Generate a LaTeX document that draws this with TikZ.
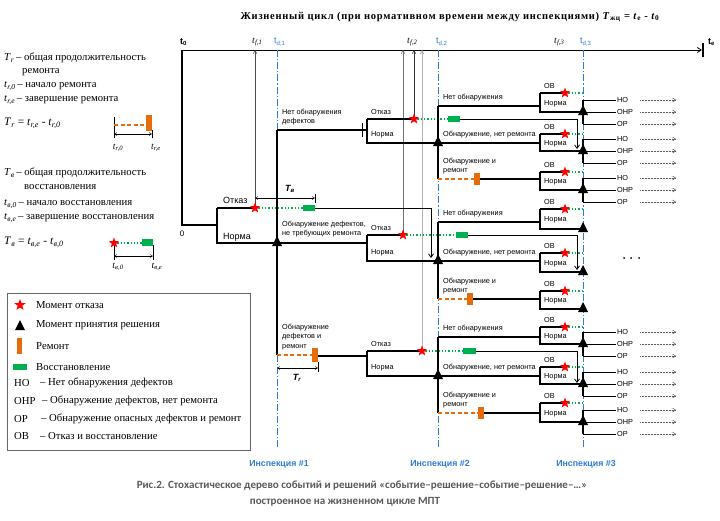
\documentclass[tikz,border=0pt]{standalone}
\usepackage{fontspec}
\setmainfont{Liberation Serif}
\setsansfont{Liberation Sans}
\newfontfamily\capfont{Carlito}
\usetikzlibrary{shapes.geometric,arrows.meta}
\definecolor{fail}{HTML}{FF0000}
\definecolor{rep}{HTML}{E46C0A}
\definecolor{rec}{HTML}{00B050}
\definecolor{insp}{HTML}{2F7BD8}
\definecolor{capgray}{HTML}{595959}
\newcommand{\tvar}[2]{\textit{#1}\textsubscript{\textit{#2}}}
\newcommand{\decmark}[2]{\fill (#1-5,#2+3) -- (#1+5,#2+3) -- (#1,#2-7) -- cycle;}
\newcommand{\ovgrp}[2]{%
  \draw[tree] (540,#1) -- (565,#1);
  \draw[recline] (565,#1) -- (583,#1);
  \draw[tree] (540,#1) -- (540,#2) -- (583,#2);
  \node[failmark] at (565,#1) {};
  \decmark{583}{#2}
  \node[lbl] at (544,#1-7) {ОВ};
  \node[lbl] at (544,{(#1+#2)/2+1}) {Норма};}
\newcommand{\outs}[1]{%
  \draw[tree] (583,#1-12) -- (583,#1+12);
  \foreach \d/\t in {-12/НО,0/ОНР,12/ОР}{%
    \draw[thin tree] (583,#1+\d) -- (616,#1+\d);
    \node[lbl] at (617,#1+\d) {\t};
    \draw[dotarr] (640,#1+\d) -- (676,#1+\d);}}
\newcommand{\subtwo}[6]{%
  \draw[tree] (367,#1) -- (367,#2) -- (540,#2);
  \draw[tree] (367,#1) -- (#3,#1);
  \draw[recline] (#3,#1) -- (#4,#1);
  \fill[rec] (#4,#1-3) rectangle (#5,#1+3);
  \draw[thin tree,-{Straight Barb[length=3.5pt,width=5pt]}] (#5,#1) -- (577,#1) -- (577,#6);
  \node[failmark] at (#3,#1) {};
  \decmark{438}{#2}
  \node[lbl] at (371,#1-7) {Отказ};
  \node[lbl] at (371,#2-8) {Норма};}
\newcommand{\subthree}[4]{%
  \draw[tree] (438,#1) -- (438,#3);
  \draw[tree] (438,#1) -- (540,#1);
  \draw[repline] (438,#3) -- (#4,#3);
  \fill[rep] (#4,#3-6) rectangle (#4+6,#3+6);
  \draw[tree] (#4+6,#3) -- (540,#3);
  \node[lbl] at (443,#1-8) {Нет обнаружения};
  \node[lbl] at (443,#2-8) {Обнаружение, нет ремонта};
  \node[lbl] at (443,#3-13) {Обнаружение и\\ремонт};}
\begin{document}
\begin{tikzpicture}[x=1pt,y=-1pt,
  tree/.style={line width=1.2pt},
  thin tree/.style={line width=0.8pt},
  recline/.style={rec,dotted,line width=1.3pt},
  repline/.style={rep,dash pattern=on 4pt off 2.5pt,line width=1.3pt},
  inspline/.style={insp,line width=0.9pt,dash pattern=on 7pt off 2pt on 1.2pt off 2pt},
  failmark/.style={star,star points=5,star point ratio=2.4,fill=fail,draw=none,inner sep=0pt,minimum size=11pt},
  lbl/.style={font=\sffamily\fontsize{7.3}{9.5}\selectfont,inner sep=0pt,anchor=west,align=left},
  lblbig/.style={font=\sffamily\fontsize{9}{10}\selectfont,inner sep=0pt,anchor=west},
  legtxt/.style={font=\fontsize{10.7}{12}\selectfont,inner sep=0pt,anchor=west},
  axlbl/.style={font=\fontsize{9.5}{10}\selectfont,inner sep=0pt,anchor=west},
  sublbl/.style={font=\fontsize{9.5}{10}\selectfont,inner sep=0pt},
  caption/.style={font=\capfont\bfseries\fontsize{11}{13}\selectfont,text=capgray},
  dotarr/.style={black!65,densely dotted,line width=0.5pt,-{Straight Barb[length=3pt,width=4pt]}},
  dimarr/.style={line width=0.5pt,{Straight Barb[length=2.5pt,width=3pt]}-{Straight Barb[length=2.5pt,width=3pt]}},
  tfline/.style={line width=0.6pt,-{Straight Barb[length=3pt,width=3.5pt]}}]
\fill[white] (0,0) rectangle (720,520);
\useasboundingbox (0,0) rectangle (720,520);

\node[font=\bfseries\fontsize{10.5}{12}\selectfont\addfontfeatures{LetterSpace=7}] at (450,17) {Жизненный цикл (при нормативном времени между инспекциями) \textit{T}\textsubscript{жц} = \textit{t}\textsubscript{e} - \textit{t}\textsubscript{0}};

% time axis
\draw[line width=0.8pt,-{Straight Barb[length=4pt,width=5pt]}] (182,50) -- (702,50);
\draw[line width=1.2pt] (703,43) -- (703,57);
\node[axlbl,font=\sffamily\bfseries\fontsize{9}{9}\selectfont] at (708,42) {t\textsubscript{e}};
\node[axlbl,font=\sffamily\bfseries\fontsize{9}{9}\selectfont] at (180,42) {t\textsubscript{0}};
\node[axlbl] at (252,42) {\tvar{t}{f,1}};
\node[axlbl] at (407,42) {\tvar{t}{f,2}};
\node[axlbl] at (554,42) {\tvar{t}{f,3}};
\node[axlbl,font=\sffamily\fontsize{9}{9}\selectfont,text=insp] at (274,42) {t\textsubscript{d,1}};
\node[axlbl,font=\sffamily\fontsize{9}{9}\selectfont,text=insp] at (436,42) {t\textsubscript{d,2}};
\node[axlbl,font=\sffamily\fontsize{9}{9}\selectfont,text=insp] at (580,42) {t\textsubscript{d,3}};

% inspections
\foreach \x in {277,438,583} \draw[inspline] (\x,50) -- (\x,448);
\foreach \x/\n in {279/1,440/2,586/3}
  \node[font=\sffamily\bfseries\fontsize{8.8}{9}\selectfont,text=insp] at (\x,464) {Инспекция \#\n};

% failure moments
\draw[tfline,black!70] (255,208) -- (255,50);
\draw[tfline,black!55] (403,235) -- (403,50);
\draw[tfline,black!80] (414,119) -- (414,50);
\draw[tfline,black!30,line width=1pt] (422,353) -- (422,50);

% level 1
\draw[tree] (182,50) -- (182,225) -- (217,225);
\draw[tree] (217,208) -- (217,243) -- (367,243);
\draw[tree] (217,208) -- (255,208);
\draw[recline] (255,208) -- (303,208);
\fill[rec] (303,205) rectangle (315,211);
\draw[thin tree,-{Straight Barb[length=3.5pt,width=5pt]}] (315,208) -- (431,208) -- (431,258);
\node[failmark] at (255,208) {};
\node[lblbig] at (223,200) {Отказ};
\node[lblbig] at (223,237) {Норма};
\node[font=\sffamily\fontsize{8}{9}\selectfont] at (182,234) {0};
\draw[dimarr] (255,198) -- (315,198);
\draw[line width=0.5pt] (315,194) -- (315,203);
\node[font=\sffamily\bfseries\itshape\fontsize{9}{10}\selectfont] at (290,189) {T\textsubscript{в}};

\draw[tree] (277,130) -- (277,355);
\draw[tree] (277,130) -- (367,130);
\draw[line width=0.8pt] (362,123) -- (362,137);
\draw[repline] (277,355) -- (312,355);
\fill[rep] (312,348) rectangle (318,362);
\draw[tree] (318,356) -- (367,356);
\decmark{277}{243}
\node[lbl] at (282,117) {Нет обнаружения\\дефектов};
\node[lbl] at (282,229) {Обнаружение дефектов,\\не требующих ремонта};
\node[lbl] at (282,337) {Обнаружение\\дефектов и\\ремонт};
\draw[dimarr] (277,368) -- (318,368);
\draw[line width=0.5pt] (318,362) -- (318,372);
\node[font=\sffamily\bfseries\itshape\fontsize{9}{10}\selectfont] at (297,378) {T\textsubscript{r}};

% level 2
\subtwo{119}{143}{414}{448}{460}{149}
\subtwo{235}{261}{403}{456}{468}{270}
\subtwo{351}{376}{422}{463}{476}{383}
\subthree{106}{143}{179}{474}
\subthree{222}{261}{299}{467}
\subthree{337}{376}{413}{478}

% level 3
\foreach \t/\b in {93/112,134/151,172/190,209/229,253/272,291/309,327/344,367/384,403/422}
  {\ovgrp{\t}{\b}}
\foreach \y in {112,151,190,344,384,422} {\outs{\y}}
\foreach \x in {624,631,639} \fill (\x,258) circle (1pt);

% notation
\node[legtxt] at (4,58) {\tvar{T}{r}\,– общая продолжительность};
\node[legtxt] at (22,72) {ремонта};
\node[legtxt] at (4,86) {\tvar{t}{r,0}\,– начало ремонта};
\node[legtxt] at (4,100) {\tvar{t}{r,e}\,– завершение ремонта};
\node[legtxt,font=\fontsize{11.5}{13}\selectfont] at (4,123) {\tvar{T}{r} = \tvar{t}{r,e} - \tvar{t}{r,0}};
\draw[line width=0.6pt] (114,117) -- (114,138);
\draw[line width=0.6pt] (152,130) -- (152,138);
\draw[repline] (114,125) -- (146,125);
\fill[rep] (146,115) rectangle (152,131);
\draw[dimarr] (114,134) -- (152,134);
\node[sublbl] at (118,148) {\tvar{t}{r,0}};
\node[sublbl] at (156,148) {\tvar{t}{r,e}};

\node[legtxt] at (4,173) {\tvar{T}{в}\,– общая продолжительность};
\node[legtxt] at (24,187) {восстановления};
\node[legtxt] at (4,204) {\tvar{t}{в,0}\,– начало восстановления};
\node[legtxt] at (4,218) {\tvar{t}{в,e}\,– завершение восстановления};
\node[legtxt,font=\fontsize{11.5}{13}\selectfont] at (4,242) {\tvar{T}{в} = \tvar{t}{в,e} - \tvar{t}{в,0}};
\draw[line width=0.6pt] (114,245) -- (114,260);
\draw[line width=0.6pt] (153,245) -- (153,260);
\draw[recline] (114,243) -- (142,243);
\fill[rec] (142,239) rectangle (153,246);
\node[failmark] at (114,243) {};
\draw[dimarr] (114,256) -- (153,256);
\node[sublbl] at (118,267) {\tvar{t}{в,0}};
\node[sublbl] at (157,267) {\tvar{t}{в,e}};

% legend
\draw[black!60,line width=0.6pt] (7,293) rectangle (250,450);
\node[failmark,minimum size=12pt] at (20,305) {};
\decmark{20}{327}
\fill[rep] (17,338) rectangle (22,354);
\fill[rec] (13,364) rectangle (27,370);
\node[legtxt] at (36,305) {Момент отказа};
\node[legtxt] at (36,325) {Момент принятия решения};
\node[legtxt] at (36,346) {Ремонт};
\node[legtxt] at (36,367) {Восстановление};
\node[legtxt] at (14,383) {НО};
\node[legtxt] at (40,383) {– Нет обнаружения дефектов};
\node[legtxt] at (14,401) {ОНР};
\node[legtxt] at (42,401) {– Обнаружение дефектов, нет ремонта};
\node[legtxt] at (14,419) {ОР};
\node[legtxt] at (41,419) {– Обнаружение опасных дефектов и ремонт};
\node[legtxt] at (14,436) {ОВ};
\node[legtxt] at (40,436) {– Отказ и восстановление};

% caption
\node[caption] at (362,486) {Рис.2. Стохастическое дерево событий и решений «событие–решение–событие–решение–…»};
\node[caption] at (345,502) {построенное на жизненном цикле МПТ};
\end{tikzpicture}
\end{document}
